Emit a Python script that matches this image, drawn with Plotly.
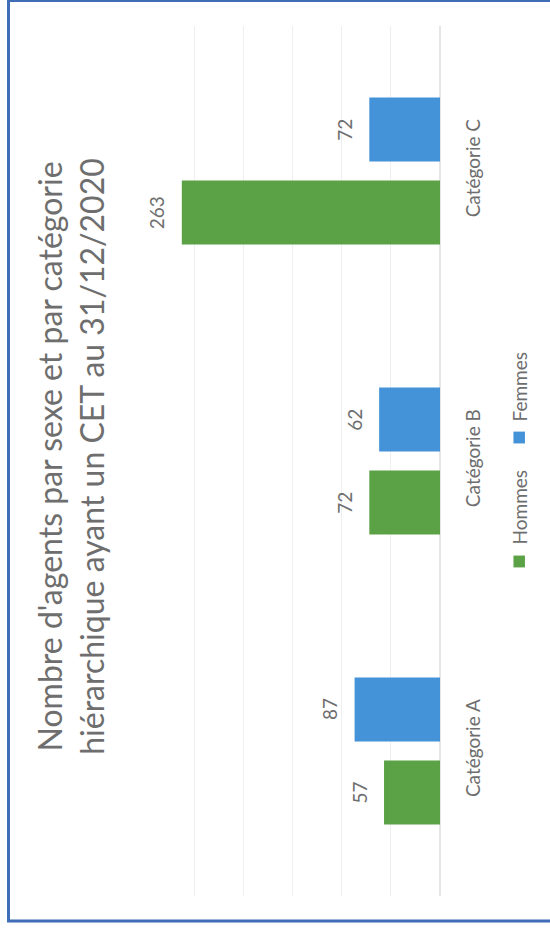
import plotly.graph_objects as go

# Data
categories = ["Catégorie A", "Catégorie B", "Catégorie C"]
hommes = [57, 72, 263]
femmes = [87, 62, 72]
series_names = ["Hommes", "Femmes"]
title_lines = ["Nombre d'agents par sexe et par catégorie",
               "hiérarchique ayant un CET au 31/12/2020"]

GREEN = "#5ba145"
BLUE = "#4492d8"
TEXT = "#6e6e6e"
FONT = "Lato"
BARGAP = 0.428
BARGROUPGAP = 0.229

series = [(series_names[0], hommes, GREEN), (series_names[1], femmes, BLUE)]

fig = go.Figure()
for name, vals, col in series:
    fig.add_trace(go.Bar(
        name=name, y=categories, x=vals, orientation="h",
        marker=dict(color=col, line=dict(width=0)),
        showlegend=False,
    ))

# Value labels beyond the end of each bar, rotated with the chart.
# Grouped bar centres sit at +/- a quarter of the group width around each category.
slot = (1 - BARGAP) / len(series)
for k, (name, vals, col) in enumerate(series):
    offset = (k - (len(series) - 1) / 2) * slot
    for i, v in enumerate(vals):
        fig.add_annotation(
            x=v, y=i + offset, xref="x", yref="y",
            text=str(v), showarrow=False, textangle=-90,
            xanchor="center", yanchor="middle", xshift=-25,
            font=dict(size=19, color=TEXT, family=FONT),
        )

fig.update_layout(
    width=550, height=930,
    margin=dict(l=145, r=110, t=26, b=34),
    paper_bgcolor="white", plot_bgcolor="white",
    barmode="group", bargap=BARGAP, bargroupgap=BARGROUPGAP,
    font=dict(family=FONT, color=TEXT),
    xaxis=dict(range=[300.5, 0], tickvals=[0, 50, 100, 150, 200, 250, 300],
               showgrid=True, gridcolor="#efefef",
               gridwidth=1, zeroline=True, zerolinecolor="#e6e6e6",
               showticklabels=False, showline=False, fixedrange=True),
    yaxis=dict(type="category", categoryorder="array", categoryarray=categories,
               side="right", tickangle=-90, ticklabelstandoff=20,
               tickfont=dict(size=19, color=TEXT, family=FONT),
               showgrid=False, showline=False, zeroline=False),
)

# Title, drawn vertically
fig.add_annotation(
    text="<br>".join(title_lines), xref="paper", yref="paper",
    x=-0.251, y=0.506, xanchor="center", yanchor="middle",
    textangle=-90, showarrow=False,
    font=dict(size=32, color=TEXT, family=FONT),
)

# Vertical legend
legend_items = [(series_names[0], GREEN, 0.3845, 0.4477),
                (series_names[1], BLUE, 0.527, 0.5856)]
for name, col, ysq, ytxt in legend_items:
    fig.add_shape(type="rect", xref="paper", yref="paper",
                  x0=1.249, x1=1.288, y0=ysq - 0.0068, y1=ysq + 0.0068,
                  fillcolor=col, line=dict(width=0))
    fig.add_annotation(text=name, xref="paper", yref="paper",
                       x=1.271, y=ytxt, xanchor="center", yanchor="middle",
                       textangle=-90, showarrow=False,
                       font=dict(size=19, color=TEXT, family=FONT))

# Frame around the chart
fig.add_shape(type="rect", xref="paper", yref="paper",
              x0=-0.4627, x1=1.38, y0=-0.0287, y1=1.0293,
              line=dict(color="#3f6db8", width=3), fillcolor="rgba(0,0,0,0)",
              layer="above")

fig.write_html("out.html")
